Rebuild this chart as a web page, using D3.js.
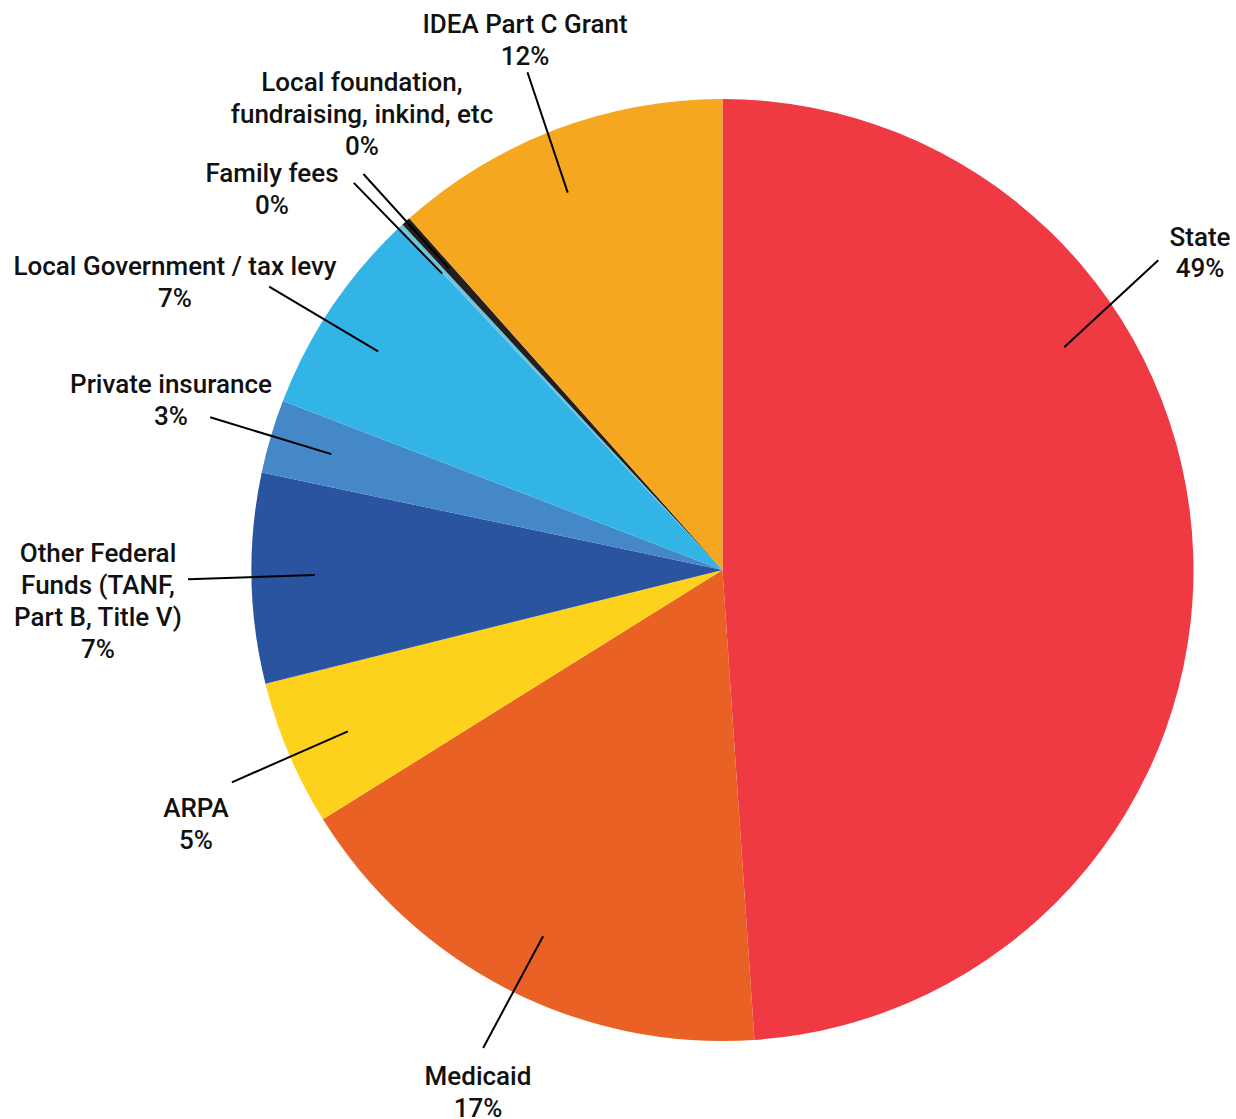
<!DOCTYPE html>
<html>
<head>
<meta charset="utf-8">
<script src="https://cdn.jsdelivr.net/npm/d3@7"></script>
<style>
  html, body { margin: 0; padding: 0; background: #ffffff; }
  svg { display: block; }
  text { font-family: Roboto, "Open Sans", sans-serif; font-weight: 500; fill: #111111; }
</style>
</head>
<body>
<svg id="chart" width="1236" height="1119"></svg>
<script>
// Funding sources, clockwise from 12 o'clock (percent of total)
const categories = [
  "State",
  "Medicaid",
  "ARPA",
  "Other Federal Funds (TANF, Part B, Title V)",
  "Private insurance",
  "Local Government / tax levy",
  "Family fees",
  "Local foundation, fundraising, inkind, etc",
  "IDEA Part C Grant"
];
const shares = [48.92, 17.20, 5.00, 7.20, 2.52, 7.13, 0.14, 0.31, 11.58];
const colors = ["#EF3A43", "#E96125", "#FDD21D", "#2B54A0", "#4588C8", "#32B4E7", "#6AC6DD", "#231F20", "#F5A720"];

// Label text lines (the percentage line is appended from the share)
const labelLines = [
  ["State"],
  ["Medicaid"],
  ["ARPA"],
  ["Other Federal", "Funds (TANF,", "Part B, Title V)"],
  ["Private insurance"],
  ["Local Government / tax levy"],
  ["Family fees"],
  ["Local foundation,", "fundraising, inkind, etc"],
  ["IDEA Part C Grant"]
];

// Label placement: leader angles (degrees clockwise from top) at the inner and outer end,
// text centre x and first line y
const leaderFrom = [56.9, 206.1, 246.7, 269.3, 286.5, 302.4, 316.6, 317.8, 337.7];
const leaderTo   = [54.6, 206.6, 246.6, 269.0, 286.6, 302.0, 316.4, 317.8, 338.6];
const labelX = [1200, 478, 196, 98, 171, 175, 272, 362, 525];
const labelY = [237, 1076, 808, 553, 384, 266, 173, 82, 24];

const svg = d3.select("#chart");
const cx = 722.5, cy = 570, R = 471;
const lineH = 32;

const pie = d3.pie().sort(null).value(d => d.v);
const data = categories.map((c, i) => ({ name: c, v: shares[i], i }));
const arcs = pie(data);
const arc = d3.arc().innerRadius(0).outerRadius(R);

const g = svg.append("g").attr("transform", `translate(${cx},${cy})`);
g.selectAll("path.slice")
  .data(arcs)
  .join("path")
  .attr("class", "slice")
  .attr("d", arc)
  .attr("fill", d => colors[d.data.i]);

// Leader lines from inside the slice to just outside the pie
const rIn = R * 0.866, rOut = R * 1.135;
const polar = (deg, r) => {
  const a = deg * Math.PI / 180;
  return [r * Math.sin(a), -r * Math.cos(a)];
};
g.selectAll("line.leader")
  .data(leaderFrom.map((a, i) => [a, leaderTo[i]]))
  .join("line")
  .attr("class", "leader")
  .attr("x1", d => polar(d[0], rIn)[0])
  .attr("y1", d => polar(d[0], rIn)[1])
  .attr("x2", d => polar(d[1], rOut)[0])
  .attr("y2", d => polar(d[1], rOut)[1])
  .attr("stroke", "#000")
  .attr("stroke-width", 2);

// Labels
const labels = svg.selectAll("text.label")
  .data(data)
  .join("text")
  .attr("class", "label")
  .attr("text-anchor", "middle")
  .attr("font-size", 26);
labels.each(function (d) {
  const lines = labelLines[d.i].concat([Math.round(d.v) + "%"]);
  d3.select(this).selectAll("tspan")
    .data(lines)
    .join("tspan")
    .attr("x", labelX[d.i])
    .attr("y", (t, k) => labelY[d.i] + k * (d.i === 0 ? 31 : lineH))
    .attr("dy", "0.35em")
    .text(t => t);
});
</script>
</body>
</html>
